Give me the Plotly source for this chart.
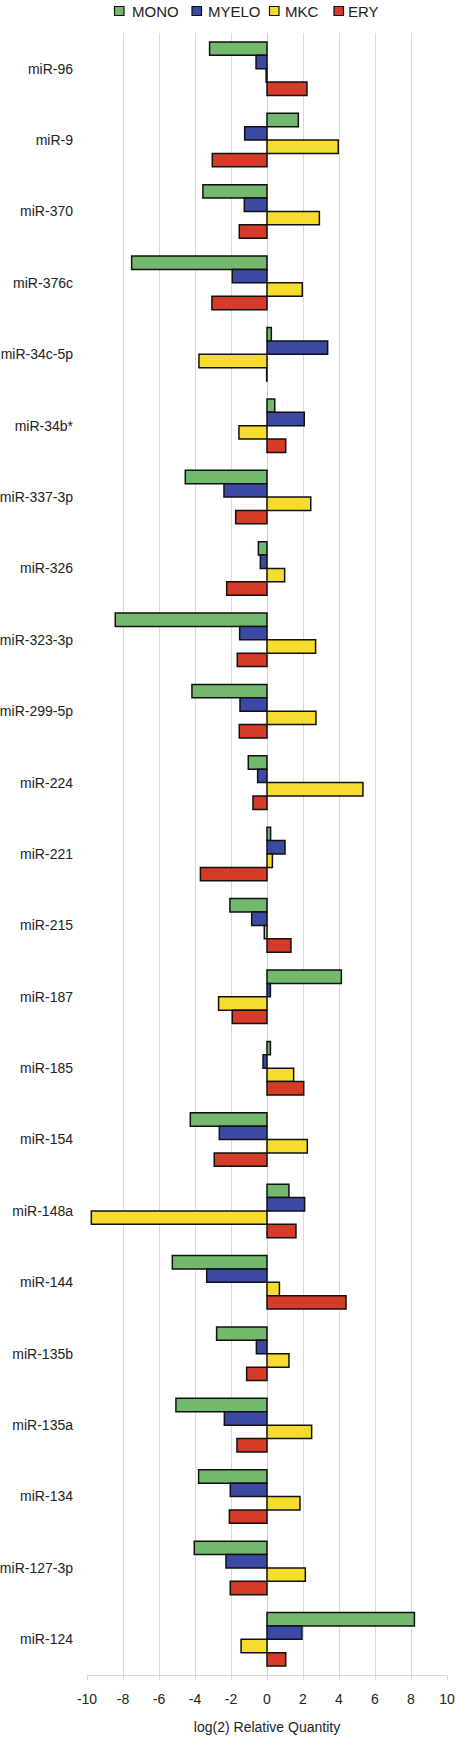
import plotly.graph_objects as go

categories = ["miR-96", "miR-9", "miR-370", "miR-376c", "miR-34c-5p", "miR-34b*",
              "miR-337-3p", "miR-326", "miR-323-3p", "miR-299-5p", "miR-224", "miR-221",
              "miR-215", "miR-187", "miR-185", "miR-154", "miR-148a", "miR-144",
              "miR-135b", "miR-135a", "miR-134", "miR-127-3p", "miR-124"]

mono = [-3.19, 1.74, -3.56, -7.52, 0.24, 0.43, -4.54, -0.48, -8.43, -4.17, -1.04, 0.20,
        -2.06, 4.13, 0.19, -4.26, 1.22, -5.26, -2.80, -5.06, -3.80, -4.04, 8.19]
myelo = [-0.61, -1.24, -1.26, -1.93, 3.37, 2.07, -2.39, -0.37, -1.52, -1.50, -0.52, 1.00,
         -0.85, 0.19, -0.22, -2.65, 2.09, -3.35, -0.59, -2.37, -2.04, -2.28, 1.94]
mkc = [-0.05, 3.96, 2.91, 1.96, -3.78, -1.56, 2.43, 0.98, 2.70, 2.72, 5.33, 0.30,
       -0.15, -2.69, 1.48, 2.24, -9.76, 0.69, 1.22, 2.48, 1.83, 2.13, -1.44]
ery = [2.22, -3.04, -1.54, -3.06, -0.02, 1.04, -1.74, -2.24, -1.65, -1.54, -0.78, -3.70,
       1.33, -1.93, 2.04, -2.93, 1.61, 4.39, -1.13, -1.67, -2.09, -2.04, 1.04]

series_names = ["MONO", "MYELO", "MKC", "ERY"]
series_values = [mono, myelo, mkc, ery]
series_colors = ["#72B96E", "#3B49A2", "#F6DC2F", "#D43B28"]

x_ticks = [-10, -8, -6, -4, -2, 0, 2, 4, 6, 8, 10]

W, H = 456, 1737
m_l, m_r, m_t, m_b = 87, 9, 33, 62
plot_w = W - m_l - m_r
plot_h = H - m_t - m_b

fig = go.Figure()
for name, vals, color in zip(series_names, series_values, series_colors):
    fig.add_trace(go.Bar(
        y=categories, x=vals, name=name, orientation="h",
        marker=dict(color=color, line=dict(color="#111111", width=1.5)),
        showlegend=False,
    ))

# Legend drawn at the top (swatch + label per series), positions in page pixels
legend_box_left = [114.5, 192.0, 269.5, 334.0]
legend_text_left = [130.0, 206.0, 283.0, 346.0]
box_top, box_bottom, text_mid = 6.5, 15.5, 11.5


def px_to_paper_x(px):
    return (px - m_l) / plot_w


def px_to_paper_y(py):
    return 1 + (m_t - py) / plot_h


for name, color, bx, tx in zip(series_names, series_colors, legend_box_left, legend_text_left):
    fig.add_shape(type="rect", xref="paper", yref="paper",
                  x0=px_to_paper_x(bx), x1=px_to_paper_x(bx + 9.5),
                  y0=px_to_paper_y(box_bottom), y1=px_to_paper_y(box_top),
                  fillcolor=color, line=dict(color="#111111", width=1.2))
    fig.add_annotation(xref="paper", yref="paper", x=px_to_paper_x(tx),
                       y=px_to_paper_y(text_mid), text=name, showarrow=False,
                       xanchor="left", yanchor="middle",
                       font=dict(size=15, color="#222222"))

font_family = "Liberation Sans, Arial, sans-serif"
fig.update_layout(
    width=W, height=H,
    margin=dict(l=m_l, r=m_r, t=m_t, b=m_b, autoexpand=False),
    paper_bgcolor="white", plot_bgcolor="white",
    barmode="group", bargap=0.25, bargroupgap=0,
    font=dict(family=font_family, size=14, color="#222222"),
    showlegend=False,
    xaxis=dict(range=[-10, 10], tickvals=x_ticks, ticktext=[str(v) for v in x_ticks],
               showgrid=True, gridcolor="#d9d9d9", gridwidth=1,
               zeroline=True, zerolinecolor="#d0d0d0", zerolinewidth=1,
               showline=True, linecolor="#d9d9d9", linewidth=1,
               ticks="outside", ticklen=4, tickcolor="#d9d9d9",
               ticklabelstandoff=7,
               title=dict(text="log(2) Relative Quantity", standoff=16,
                          font=dict(size=14, color="#222222")),
               automargin=False, fixedrange=True),
    yaxis=dict(categoryorder="array", categoryarray=categories, autorange="reversed",
               showgrid=False, zeroline=False, showline=False, ticks="",
               ticklabelstandoff=13, automargin=False, fixedrange=True),
)

fig.write_html("out.html", config={"displayModeBar": False},
               post_script="document.body.style.margin='0';document.body.style.padding='0';")
